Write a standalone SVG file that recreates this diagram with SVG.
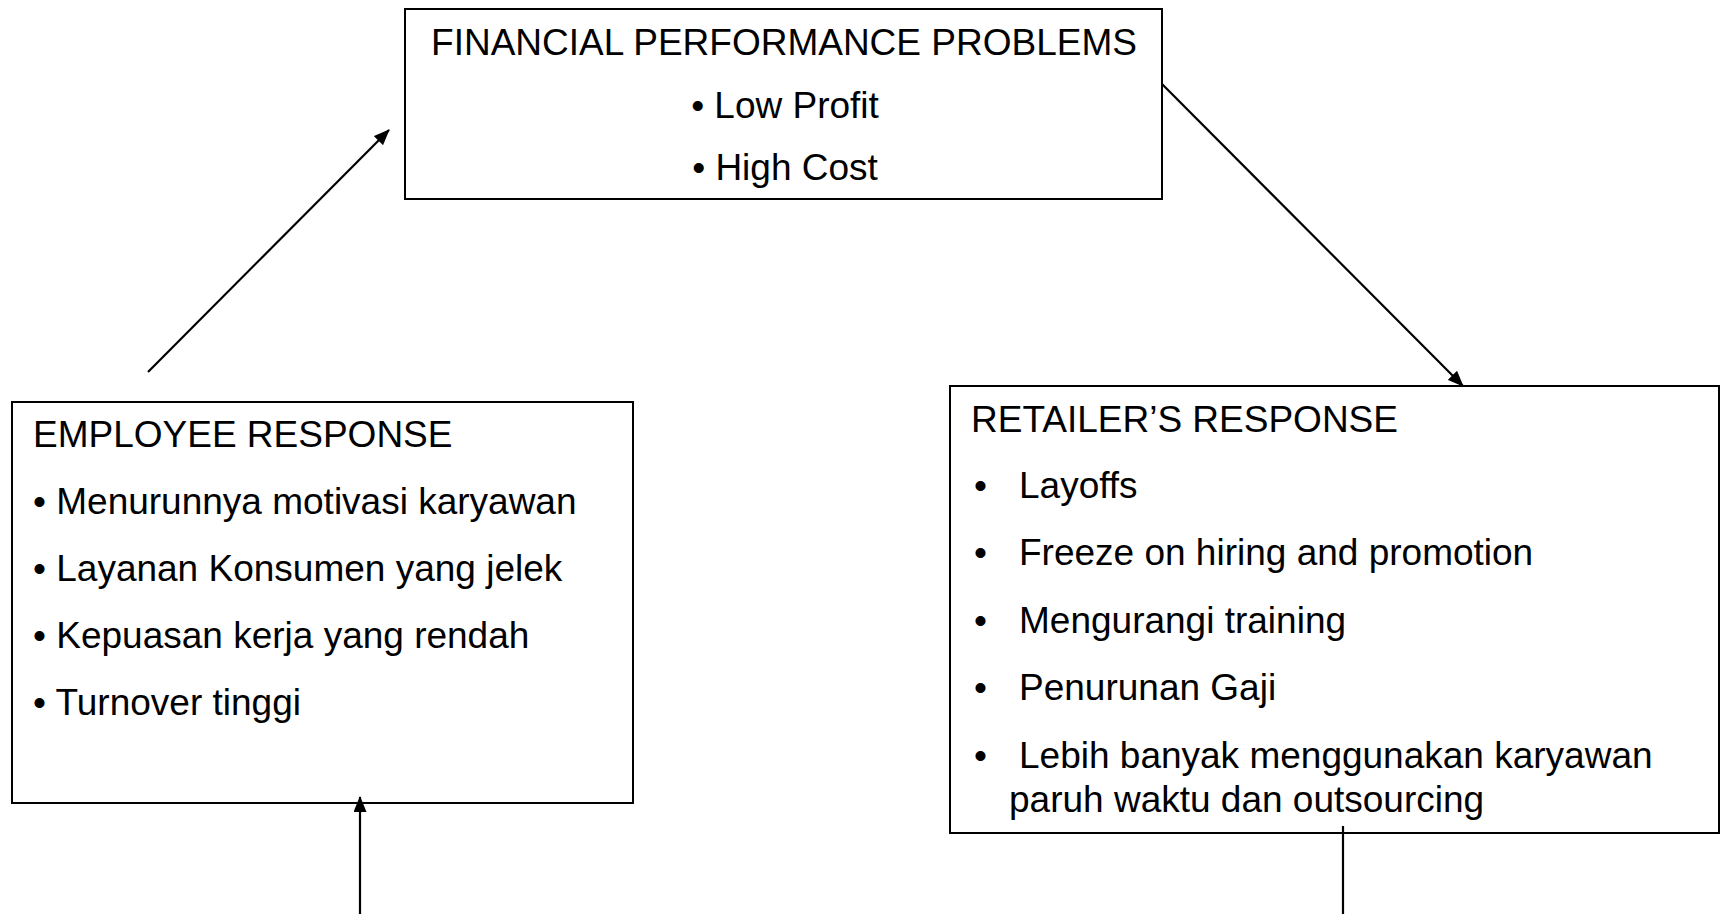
<svg xmlns="http://www.w3.org/2000/svg" width="1725" height="914" viewBox="0 0 1725 914">
<style>
.box{fill:#fff;stroke:#000;stroke-width:2}
.t{font-family:"Liberation Sans",Arial,sans-serif;font-size:37px;fill:#000}
.c{stroke:#000;stroke-width:2.2;fill:none}
</style>
<defs>
<marker id="ah" markerUnits="userSpaceOnUse" markerWidth="16" markerHeight="13" refX="15" refY="6.5" orient="auto">
<path d="M0,0 L16,6.5 L0,13 z" fill="#000"/>
</marker>
</defs>
<rect width="1725" height="914" fill="#fff"/>
<g id="financial">
<rect class="box" x="405" y="9" width="757" height="190"/>
<text class="t" x="784" y="55" text-anchor="middle">FINANCIAL PERFORMANCE PROBLEMS</text>
<text class="t" x="785" y="118" text-anchor="middle">• Low Profit</text>
<text class="t" x="785" y="180" text-anchor="middle">• High Cost</text>
</g>
<g id="employee">
<rect class="box" x="12" y="402" width="621" height="401"/>
<text class="t" x="33" y="447">EMPLOYEE RESPONSE</text>
<text class="t" x="33" y="514">• Menurunnya motivasi karyawan</text>
<text class="t" x="33" y="581">• Layanan Konsumen yang jelek</text>
<text class="t" x="33" y="648">• Kepuasan kerja yang rendah</text>
<text class="t" x="33" y="715">• Turnover tinggi</text>
</g>
<g id="retailer">
<rect class="box" x="950" y="386" width="769" height="447"/>
<text class="t" x="971" y="432">RETAILER’S RESPONSE</text>
<text class="t" x="974" y="498">•</text><text class="t" x="1019" y="498">Layoffs</text>
<text class="t" x="974" y="565">•</text><text class="t" x="1019" y="565">Freeze on hiring and promotion</text>
<text class="t" x="974" y="633">•</text><text class="t" x="1019" y="633">Mengurangi training</text>
<text class="t" x="974" y="700">•</text><text class="t" x="1019" y="700">Penurunan Gaji</text>
<text class="t" x="974" y="768">•</text><text class="t" x="1019" y="768">Lebih banyak menggunakan karyawan</text>
<text class="t" x="1009" y="812">paruh waktu dan outsourcing</text>
</g>
<g id="connectors">
<line class="c" x1="148" y1="372" x2="389" y2="130" marker-end="url(#ah)"/>
<line class="c" x1="1162" y1="84" x2="1463" y2="386" marker-end="url(#ah)"/>
<line class="c" x1="360" y1="914" x2="360" y2="797" marker-end="url(#ah)"/>
<line class="c" x1="1343" y1="826" x2="1343" y2="914"/>
</g>
</svg>
